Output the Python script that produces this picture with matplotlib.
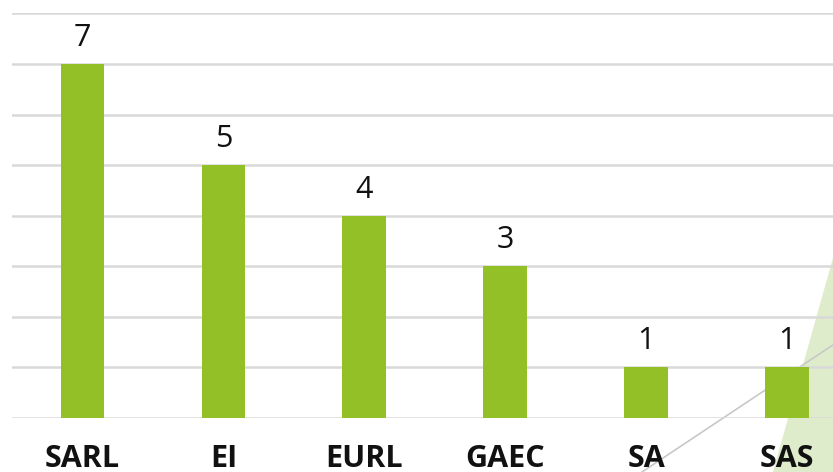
import matplotlib
matplotlib.use("Agg")
import matplotlib.pyplot as plt
from matplotlib.patches import Polygon
from matplotlib.lines import Line2D

categories = ["SARL", "EI", "EURL", "GAEC", "SA", "SAS"]
values = [7, 5, 4, 3, 1, 1]

W, H = 833, 472
fig = plt.figure(figsize=(W / 100, H / 100), dpi=100)
fig.patch.set_facecolor("white")

def px(x, y):
    return (x / W, 1 - y / H)

# decorative background shapes (figure coordinates)
tri = Polygon([px(773, 472), px(850, 197), px(850, 472)], closed=True,
              transform=fig.transFigure, facecolor="#dfeccb", edgecolor="none", zorder=0)
fig.patches.append(tri)
ln = Line2D([642 / W, 860 / W], [1 - 472 / H, 1 - 327 / H], transform=fig.transFigure,
            color="#c8c8c8", linewidth=1.2, zorder=0.5)
fig.lines.append(ln)

ax = fig.add_axes([12 / W, 1 - 418 / H, (857.5 - 12) / W, (418 - 13.4) / H])
ax.set_facecolor("none")
ax.set_zorder(1)

x = list(range(len(categories)))
ax.bar(x, values, width=0.31, color="#92c026", zorder=3)
ax.set_xlim(-0.5, len(categories) - 0.5)
ax.set_ylim(0, 8)
ax.set_yticks(range(0, 9))
ax.yaxis.grid(True, color="#d9d9d9", linewidth=1.8, zorder=0)
ax.set_axisbelow(True)
ax.tick_params(axis="y", left=False, labelleft=False)
ax.tick_params(axis="x", bottom=False, labelbottom=False)
ax.set_xticks(x)
for s in ax.spines.values():
    s.set_visible(False)

for xi, c in zip(x, categories):
    ax.annotate(c, (xi, 0), xycoords=("data", "axes fraction"), xytext=(0, -35.3),
                textcoords="offset points", ha="center", va="baseline",
                fontfamily="Open Sans", fontweight="bold", fontsize=22, color="#111111",
                annotation_clip=False)

for xi, v in zip(x, values):
    ax.annotate(str(v), (xi, v), xytext=(0, 13), textcoords="offset points",
                ha="center", va="baseline", fontfamily="Open Sans", fontsize=22, color="#111111")

fig.savefig("out.png", dpi=100)
